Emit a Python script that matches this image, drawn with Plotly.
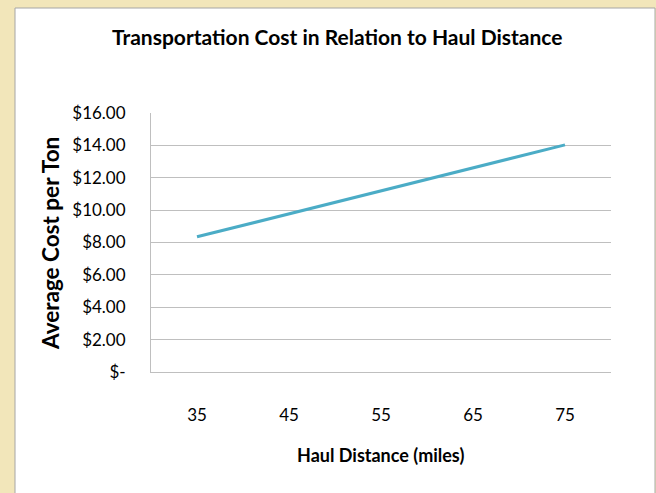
import plotly.graph_objects as go

# Data
haul_distance = ["35", "45", "55", "65", "75"]
avg_cost = [8.35, 9.77, 11.19, 12.61, 14.03]
y_tick_vals = [0, 2, 4, 6, 8, 10, 12, 14, 16]
y_tick_text = ["$-", "$2.00", "$4.00", "$6.00", "$8.00", "$10.00", "$12.00", "$14.00", "$16.00"]

W, H = 656, 493
L, R, T, B = 151, 611, 113, 372
pw, ph = R - L, B - T
BEIGE = "#F2E6BA"

def px(x):
    return (x - L) / pw

def py(y):
    return (B - y) / ph

fig = go.Figure()
fig.add_trace(go.Scatter(
    x=haul_distance, y=avg_cost, mode="lines",
    line=dict(color="#4BACC6", width=3),
    showlegend=False, hoverinfo="x+y",
))

FONT = "Lato, Roboto, sans-serif"

fig.update_layout(
    width=W, height=H,
    margin=dict(l=L, r=W - R, t=T, b=H - B, pad=0),
    paper_bgcolor=BEIGE,
    plot_bgcolor="rgba(0,0,0,0)",
    font=dict(family=FONT, color="#000000"),
    shapes=[dict(
        type="rect", xref="paper", yref="paper", layer="below",
        x0=px(15), x1=px(655), y0=py(H + 20), y1=py(8),
        fillcolor="#FFFFFF", line=dict(color="#A6A6A6", width=1),
    )],
    xaxis=dict(
        type="category", range=[-0.5, len(haul_distance) - 0.5],
        showgrid=False, showline=True, linecolor="#BFBFBF", linewidth=1,
        ticks="", ticklabelstandoff=28, tickfont=dict(size=17, family=FONT),
        zeroline=False, fixedrange=True, automargin=False,
    ),
    yaxis=dict(
        range=[0, 16], tickvals=y_tick_vals, ticktext=y_tick_text,
        showgrid=True, gridcolor="#BFBFBF", gridwidth=1,
        showline=True, linecolor="#BFBFBF", linewidth=1,
        ticks="", ticklabelstandoff=21, tickfont=dict(size=17, family=FONT),
        zeroline=False, fixedrange=True, automargin=False,
    ),
    annotations=[
        dict(text="<b>Transportation Cost in Relation to Haul Distance</b>",
             xref="paper", yref="paper", x=px(337), y=py(37),
             xanchor="center", yanchor="middle", showarrow=False,
             font=dict(size=21, family=FONT)),
        dict(text="<b>Haul Distance (miles)</b>",
             xref="paper", yref="paper", x=px(380), y=py(455),
             xanchor="center", yanchor="middle", showarrow=False,
             font=dict(size=18, family=FONT)),
        dict(text="<b>Average Cost per Ton</b>",
             xref="paper", yref="paper", x=px(50), y=py(244),
             xanchor="center", yanchor="middle", showarrow=False, textangle=-90,
             font=dict(size=22.5, family=FONT)),
    ],
)

fig.write_html(
    "out.html",
    config={"displayModeBar": False},
    post_script="document.body.style.margin='0';document.body.style.background='" + BEIGE + "';",
)
